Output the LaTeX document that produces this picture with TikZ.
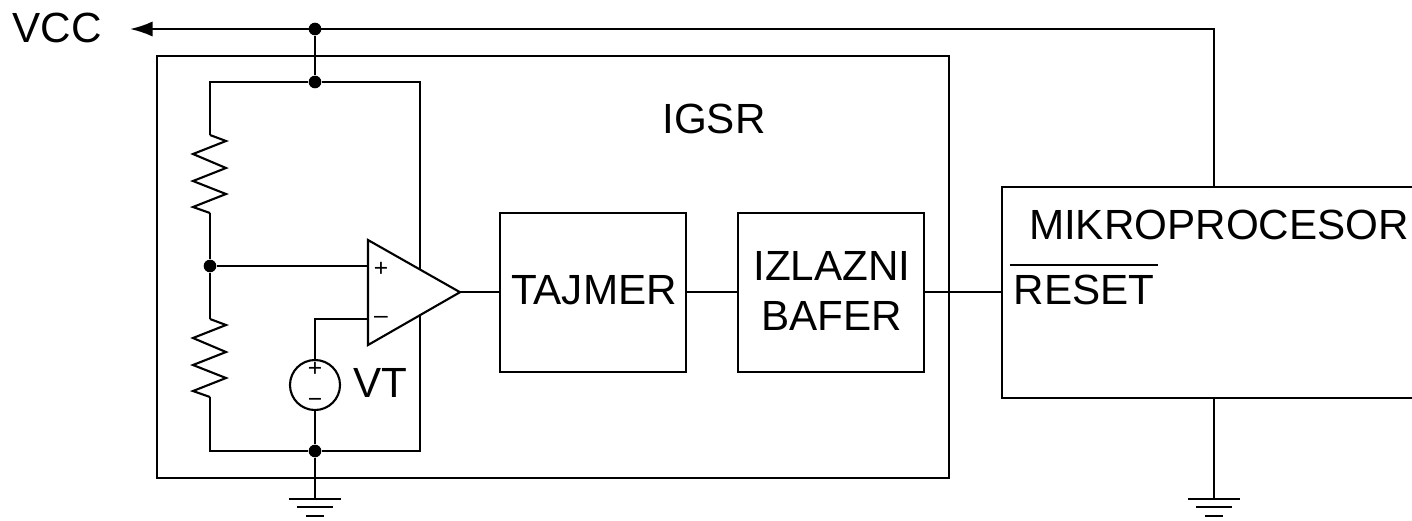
\documentclass[tikz,border=0pt]{standalone}
\usepackage{fontspec}
\setmainfont{Liberation Sans}
\usetikzlibrary{arrows.meta}
\tikzset{
  wire/.style={line width=.6pt},
  block/.style={draw, wire, inner sep=0pt},
  dot/.style={circle, fill=black, inner sep=0pt, minimum size=3.6pt},
  lbl/.style={inner sep=0pt, align=center, font=\fontsize{12}{14.2}\selectfont},
  sign/.style={inner sep=0pt, font=\fontsize{7}{8}\selectfont}
}
\newcommand{\gndsym}[1]{
  \draw[wire] ([shift={(-26,0)}]#1)--([shift={(26,0)}]#1);
  \draw[wire] ([shift={(-18,8)}]#1)--([shift={(18,8)}]#1);
  \draw[wire] ([shift={(-9,17)}]#1)--([shift={(9,17)}]#1);
}
\begin{document}
\begin{tikzpicture}[x=.01cm, y=-.01cm, >={Latex[length=6.4pt,width=4.3pt]}]
\useasboundingbox (0,0) rectangle (1412,520);
% boxes
\node[block, minimum width=7.92cm, minimum height=4.22cm] (igsr) at (553,267) {};
\node[block, minimum width=1.86cm, minimum height=1.59cm] (tajmer) at (593,292.2) {};
\node[block, minimum width=1.86cm, minimum height=1.59cm] (bafer) at (831,292.2) {};
\node[block, minimum width=4.24cm, minimum height=2.11cm] (mikro) at (1214,292.2) {};
\node[lbl] (tajmertext) at (594,290) {TAJMER};
\node[lbl] (bafertext) at (832,290.5) {IZLAZNI\\BAFER};
\node[lbl] (igsrtext) at (714,118.5) {IGSR};
\node[lbl] (mikrotext) at (1219,225) {MIKROPROCESOR};
\node[lbl, inner xsep=.03cm, inner ysep=.09cm] (resettext) at (1084,289.5) {RESET};
\draw[wire] (resettext.north west)--(resettext.north east);
\node[lbl] (vcctext) at (57,28) {VCC};
% points on the wires
\node[dot] (jvcc) at (315,29) {};
\node[dot] (jtop) at (315,82) {};
\node[dot] (jmid) at (210,266) {};
\node[dot] (jbot) at (315,451) {};
\coordinate (vccend) at (130,29);
\coordinate (rcorner) at (420,451);
\coordinate (gndleft) at (315,499);
\coordinate (gndright) at (1214,499);
\coordinate (opplus) at (368,266);
\coordinate (opminus) at (368,319);
\coordinate (opout) at (460,292.2);
\node[draw, wire, circle, inner sep=0pt, minimum size=.5cm] (vt) at (315,385) {};
\node[lbl] (vttext) at (380,383) {VT};
% wires
\draw[wire, ->] (mikro.north) |- (vccend);
\draw[wire] (jvcc)--(jtop);
\draw[wire] (jtop) -| (rcorner)--(jbot);
\draw[wire] (jmid)--(opplus);
\draw[wire] (opminus) -| (vt.north);
\draw[wire] (vt.south)--(jbot)--(gndleft);
\draw[wire] (mikro.south)--(gndright);
\draw[wire] (opout)--(tajmer);
\draw[wire] (tajmer)--(bafer);
\draw[wire] (bafer)--(mikro);
% resistors
\foreach \ry/\rn in {135/rup,319/rdown}
{
    \coordinate (\rn a) at (210,\ry);
    \draw[wire, line join=miter] (\rn a)--++(16,6)--++(-33,13)--++(33,14)--++(-33,13)--++(33,13)--++(-33,13)--++(17,6) coordinate (\rn b);
}
\draw[wire] (jtop) -| (rupa);
\draw[wire] (rupb)--(jmid)--(rdowna);
\draw[wire] (rdownb) |- (jbot);
% comparator
\draw[wire, fill=white] (368,240)--(opout)--(368,345)--cycle;
\node[sign] (opp) at (381,269) {+};
\node[sign] (opm) at (381,320) {–};
\node[sign] (vtp) at (315,369.5) {+};
\node[sign] (vtm) at (315,403) {−};
% grounds
\gndsym{gndleft}
\gndsym{gndright}
\end{tikzpicture}
\end{document}
